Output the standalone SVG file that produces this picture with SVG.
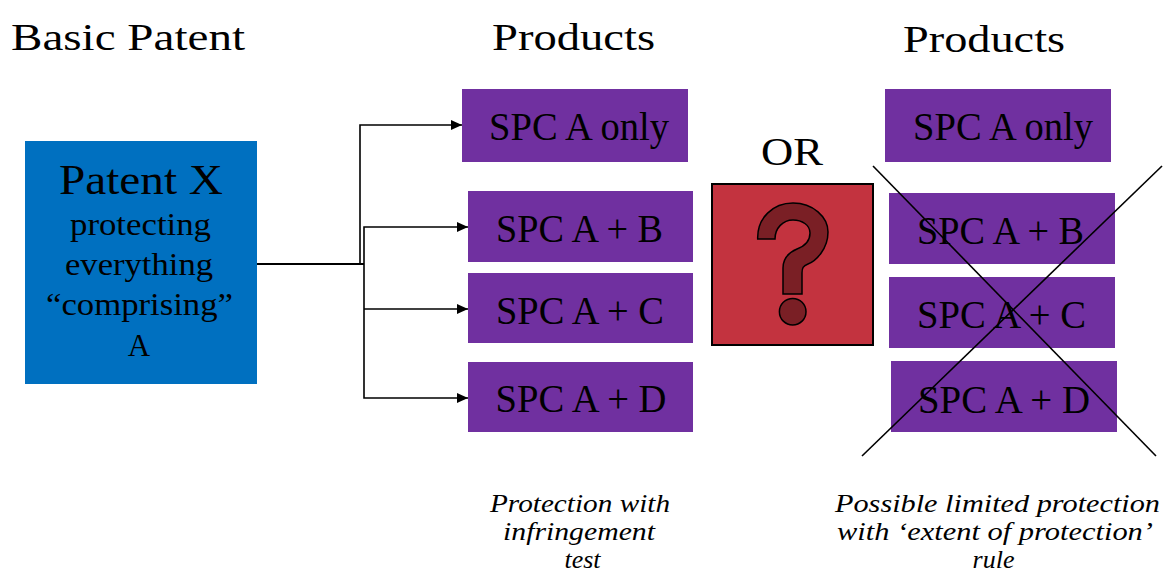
<svg xmlns="http://www.w3.org/2000/svg" width="1171" height="587" viewBox="0 0 1171 587">
<defs>
<style>
text{font-family:'Liberation Serif','Times New Roman',Times,Tinos,'Nimbus Roman','Nimbus Roman No9 L',FreeSerif,'DejaVu Serif','Noto Serif',Georgia,serif;fill:#000;text-anchor:middle}
.h{font-size:37px}
.b{font-size:31px}
.spc{font-size:39px}
.cap{font-size:26px;font-style:italic}
.purple{fill:#7030A0}
.conn{fill:none;stroke:#000;stroke-width:1.6}
</style>
<marker id="arr" markerUnits="userSpaceOnUse" markerWidth="12" markerHeight="12" viewBox="0 0 12 12" refX="11" refY="6" orient="auto">
<path d="M0,1 L11,6 L0,11 Z" fill="#000"/>
</marker>
</defs>
<rect width="1171" height="587" fill="#fff"/>

<text class="h" x="128" y="50" textLength="234" lengthAdjust="spacingAndGlyphs">Basic Patent</text>
<text class="h" x="573.5" y="50" textLength="163" lengthAdjust="spacingAndGlyphs">Products</text>
<text class="h" x="984" y="52" textLength="162" lengthAdjust="spacingAndGlyphs">Products</text>
<text x="792" y="165" font-size="40" textLength="62" lengthAdjust="spacingAndGlyphs">OR</text>

<g id="patentX">
<rect x="25" y="141" width="232" height="243" fill="#0070C0"/>
<text x="141" y="194" font-size="43" textLength="164" lengthAdjust="spacingAndGlyphs">Patent X</text>
<text class="b" x="140.5" y="235" textLength="141" lengthAdjust="spacingAndGlyphs">protecting</text>
<text class="b" x="139" y="275" textLength="148" lengthAdjust="spacingAndGlyphs">everything</text>
<text class="b" x="139.5" y="315" textLength="187" lengthAdjust="spacingAndGlyphs">“comprising”</text>
<text class="b" x="139" y="356">A</text>
</g>

<g id="connectors">
<path d="M257,264 H364" fill="none" stroke="#000" stroke-width="2.2"/>
<path class="conn" d="M360,264 V125 H462" marker-end="url(#arr)"/>
<path class="conn" d="M364,264 V227 H468" marker-end="url(#arr)"/>
<path class="conn" d="M364,264 V398 H468" marker-end="url(#arr)"/>
<path class="conn" d="M364,309 H468" marker-end="url(#arr)"/>
</g>

<g id="L-A-only">
<rect class="purple" x="462" y="89" width="226" height="73"/>
<text class="spc" x="579" y="140" textLength="180" lengthAdjust="spacingAndGlyphs">SPC A only</text>
</g>
<g id="L-A-B">
<rect class="purple" x="468" y="191" width="225" height="71"/>
<text class="spc" x="579.5" y="242" textLength="167" lengthAdjust="spacingAndGlyphs">SPC A + B</text>
</g>
<g id="L-A-C">
<rect class="purple" x="468" y="273" width="225" height="70"/>
<text class="spc" x="580" y="324" textLength="168" lengthAdjust="spacingAndGlyphs">SPC A + C</text>
</g>
<g id="L-A-D">
<rect class="purple" x="468" y="362" width="225" height="70"/>
<text class="spc" x="581" y="412" textLength="171" lengthAdjust="spacingAndGlyphs">SPC A + D</text>
</g>

<g id="question">
<rect x="712" y="184" width="161" height="161" fill="#C3333F" stroke="#000" stroke-width="2"/>
<path d="M757.7,239 C757,218 773,203 793,203 C813,203 828,217 828,232 C828,249 816,261 808,264 C803,266 802,268 802,273 L802,294 L783,294 L783,268 C783,257 790,252 797,249 C805,246 810,241 810,233 C810,225 802,220 793,220 C783,220 775,228 775,239 Z" fill="#7A1F25" stroke="#000" stroke-width="1.5"/>
<circle cx="792.7" cy="311.7" r="13.3" fill="#7A1F25" stroke="#000" stroke-width="1.5"/>
</g>

<g id="R-A-only">
<rect class="purple" x="885" y="89" width="226" height="73"/>
<text class="spc" x="1003" y="140" textLength="180" lengthAdjust="spacingAndGlyphs">SPC A only</text>
</g>
<g id="R-A-B">
<rect class="purple" x="889" y="193" width="226" height="71"/>
<text class="spc" x="1000.5" y="244" textLength="167" lengthAdjust="spacingAndGlyphs">SPC A + B</text>
</g>
<g id="R-A-C">
<rect class="purple" x="889" y="277" width="226" height="71"/>
<text class="spc" x="1001.5" y="328" textLength="169" lengthAdjust="spacingAndGlyphs">SPC A + C</text>
</g>
<g id="R-A-D">
<rect class="purple" x="891" y="361" width="226" height="71"/>
<text class="spc" x="1004" y="413" textLength="172" lengthAdjust="spacingAndGlyphs">SPC A + D</text>
</g>

<g id="cross">
<line x1="873" y1="166" x2="1156" y2="456" stroke="#000" stroke-width="1.6"/>
<line x1="1162" y1="166" x2="862" y2="456" stroke="#000" stroke-width="1.6"/>
</g>

<g id="captions">
<text class="cap" x="580" y="512" textLength="180" lengthAdjust="spacingAndGlyphs">Protection with</text>
<text class="cap" x="579" y="540" textLength="152" lengthAdjust="spacingAndGlyphs">infringement</text>
<text class="cap" x="582.5" y="568">test</text>
<text class="cap" x="997.5" y="512" textLength="325" lengthAdjust="spacingAndGlyphs">Possible limited protection</text>
<text class="cap" x="995" y="540" textLength="316" lengthAdjust="spacingAndGlyphs">with ‘extent of protection’</text>
<text class="cap" x="993.5" y="568">rule</text>
</g>
</svg>
